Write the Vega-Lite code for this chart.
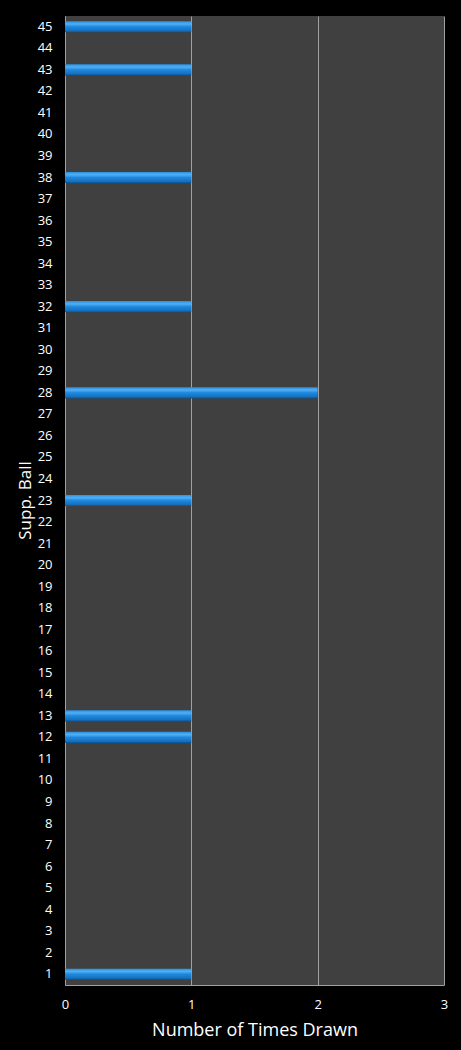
{
  "$schema": "https://vega.github.io/schema/vega-lite/v6.json",
  "width": 379,
  "height": 969,
  "autosize": {"type": "none"},
  "padding": {"left": 65, "top": 16, "right": 17, "bottom": 65},
  "background": "#000000",
  "data": {
    "values": [
      {"ball": 1, "drawn": 1}, {"ball": 2, "drawn": 0}, {"ball": 3, "drawn": 0},
      {"ball": 4, "drawn": 0}, {"ball": 5, "drawn": 0}, {"ball": 6, "drawn": 0},
      {"ball": 7, "drawn": 0}, {"ball": 8, "drawn": 0}, {"ball": 9, "drawn": 0},
      {"ball": 10, "drawn": 0}, {"ball": 11, "drawn": 0}, {"ball": 12, "drawn": 1},
      {"ball": 13, "drawn": 1}, {"ball": 14, "drawn": 0}, {"ball": 15, "drawn": 0},
      {"ball": 16, "drawn": 0}, {"ball": 17, "drawn": 0}, {"ball": 18, "drawn": 0},
      {"ball": 19, "drawn": 0}, {"ball": 20, "drawn": 0}, {"ball": 21, "drawn": 0},
      {"ball": 22, "drawn": 0}, {"ball": 23, "drawn": 1}, {"ball": 24, "drawn": 0},
      {"ball": 25, "drawn": 0}, {"ball": 26, "drawn": 0}, {"ball": 27, "drawn": 0},
      {"ball": 28, "drawn": 2}, {"ball": 29, "drawn": 0}, {"ball": 30, "drawn": 0},
      {"ball": 31, "drawn": 0}, {"ball": 32, "drawn": 1}, {"ball": 33, "drawn": 0},
      {"ball": 34, "drawn": 0}, {"ball": 35, "drawn": 0}, {"ball": 36, "drawn": 0},
      {"ball": 37, "drawn": 0}, {"ball": 38, "drawn": 1}, {"ball": 39, "drawn": 0},
      {"ball": 40, "drawn": 0}, {"ball": 41, "drawn": 0}, {"ball": 42, "drawn": 0},
      {"ball": 43, "drawn": 1}, {"ball": 44, "drawn": 0}, {"ball": 45, "drawn": 1}
    ]
  },
  "mark": {
    "type": "bar",
    "color": {
      "gradient": "linear",
      "x1": 0, "y1": 0, "x2": 0, "y2": 1,
      "stops": [
        {"offset": 0, "color": "#2a8fe0"},
        {"offset": 0.25, "color": "#4fb0f5"},
        {"offset": 0.5, "color": "#1f88dc"},
        {"offset": 0.85, "color": "#1670c0"},
        {"offset": 1, "color": "#0d4f8c"}
      ]
    }
  },
  "encoding": {
    "y": {
      "field": "ball",
      "type": "ordinal",
      "sort": "descending",
      "scale": {"paddingInner": 0.48, "paddingOuter": 0.24},
      "title": "Supp. Ball",
      "axis": {
        "domain": true,
        "domainColor": "#a0a0a0",
        "ticks": false,
        "labelPadding": 13,
        "labelColor": "#ffffff",
        "labelFont": "Open Sans",
        "labelFontSize": 13,
        "titleColor": "#ffffff",
        "titleFont": "Open Sans",
        "titleFontSize": 17,
        "titleFontWeight": "normal",
        "titleX": -40,
        "titleY": 484,
        "titleAngle": -90,
        "titleAlign": "center",
        "titleBaseline": "middle"
      }
    },
    "x": {
      "field": "drawn",
      "type": "quantitative",
      "scale": {"domain": [0, 3], "nice": false},
      "title": "Number of Times Drawn",
      "axis": {
        "values": [0, 1, 2, 3],
        "format": "d",
        "grid": true,
        "gridColor": "#a0a0a0",
        "gridWidth": 1,
        "domainColor": "#a0a0a0",
        "ticks": false,
        "labelFlush": false,
        "labelPadding": 13,
        "labelColor": "#ffffff",
        "labelFont": "Open Sans",
        "labelFontSize": 13,
        "titleColor": "#ffffff",
        "titleFont": "Open Sans",
        "titleFontSize": 18,
        "titleFontWeight": "normal",
        "titlePadding": 10
      }
    }
  },
  "config": {
    "view": {"fill": "#404040", "stroke": null}
  }
}
